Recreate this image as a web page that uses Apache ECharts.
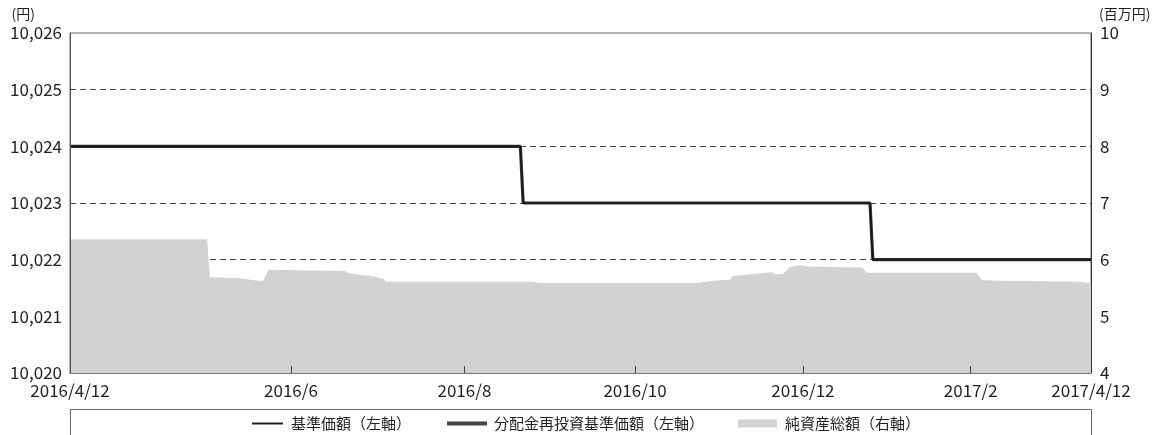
<!DOCTYPE html>
<html>
<head>
<meta charset="utf-8">
<script src="https://cdn.jsdelivr.net/npm/echarts@6/dist/echarts.min.js"></script>
<style>
  html, body { margin: 0; padding: 0; background: #fff; }
  #main { width: 1169px; height: 435px; }
</style>
</head>
<body>
<div id="main"></div>
<script>
// 基準価額 / 分配金再投資基準価額 (円, 左軸)
var navDates = ['2016-04-12', '2016-09-20', '2016-09-21', '2017-01-23', '2017-01-24', '2017-04-12'];
var navValues = [10024, 10024, 10023, 10023, 10022, 10022];
var reinvValues = [10024, 10024, 10023, 10023, 10022, 10022];

// 純資産総額 (百万円, 右軸)
var assetDates = ['2016-04-12', '2016-05-31', '2016-06-01', '2016-06-12', '2016-06-16', '2016-06-20',
  '2016-06-22', '2016-07-19', '2016-07-21', '2016-07-25', '2016-07-29', '2016-08-02', '2016-08-03',
  '2016-09-24', '2016-09-27', '2016-11-22', '2016-11-28', '2016-12-04', '2016-12-05', '2016-12-15',
  '2016-12-19', '2016-12-20', '2016-12-23', '2016-12-25', '2016-12-29', '2017-01-01', '2017-01-20',
  '2017-01-22', '2017-03-02', '2017-03-04', '2017-03-10', '2017-04-08', '2017-04-12'];
var assetValues = [6.36, 6.36, 5.69, 5.67, 5.64, 5.62,
  5.82, 5.80, 5.76, 5.73, 5.71, 5.66, 5.61,
  5.61, 5.59, 5.59, 5.63, 5.65, 5.71, 5.76,
  5.78, 5.74, 5.75, 5.86, 5.90, 5.88, 5.86,
  5.77, 5.77, 5.64, 5.63, 5.61, 5.59];

// x軸の目盛
var tickDates = ['2016-04-12', '2016-06-30', '2016-08-31', '2016-10-31', '2016-12-30', '2017-02-28', '2017-04-12'];
var tickLabels = ['2016/4/12', '2016/6', '2016/8', '2016/10', '2016/12', '2017/2', '2017/4/12'];

var font = '"Noto Sans CJK JP", "Noto Sans", sans-serif';
var textColor = '#231f20';

// 日付 -> 日数 (2016-04-12 からの経過日)
var base = Date.UTC(2016, 3, 12);
function dayNum(s) {
  var p = s.split('-');
  return Math.round((Date.UTC(+p[0], +p[1] - 1, +p[2]) - base) / 86400000);
}
function pairs(dates, vals) {
  return dates.map(function (d, i) { return [dayNum(d), vals[i]]; });
}
var tickValues = tickDates.map(dayNum);
var innerTicks = tickValues.slice(1, -1);

var myChart = echarts.init(document.getElementById('main'));
myChart.setOption({
  animation: false,
  textStyle: { fontFamily: font, color: textColor },
  grid: {
    left: 70, right: 78, top: 33, bottom: 62,
    show: true, borderColor: '#666', borderWidth: 1,
    outerBoundsMode: 'none'
  },
  legend: [{
    left: 247, top: 411,
    itemWidth: 31, itemHeight: 2, icon: 'rect',
    textStyle: { fontFamily: font, fontSize: 15, color: textColor, padding: [0, 0, 0, 3] },
    data: ['基準価額（左軸）']
  }, {
    left: 442, top: 411,
    itemWidth: 40, itemHeight: 4, icon: 'rect',
    textStyle: { fontFamily: font, fontSize: 15, color: textColor, padding: [0, 0, 0, 2] },
    data: ['分配金再投資基準価額（左軸）']
  }, {
    left: 733, top: 411,
    itemWidth: 39, itemHeight: 8, icon: 'rect',
    textStyle: { fontFamily: font, fontSize: 15, color: textColor, padding: [0, 0, 0, 3] },
    data: ['純資産総額（右軸）']
  }],
  graphic: [{
    type: 'rect',
    shape: { x: 70.5, y: 409.5, width: 1021, height: 40 },
    style: { fill: 'none', stroke: '#666', lineWidth: 1 }
  }],
  xAxis: {
    type: 'value',
    min: tickValues[0],
    max: tickValues[tickValues.length - 1],
    z: 5,
    axisLine: { show: true, lineStyle: { color: '#777', width: 1 } },
    axisTick: {
      show: true, inside: true, length: 7,
      customValues: innerTicks,
      lineStyle: { color: '#444' }
    },
    axisLabel: {
      customValues: tickValues,
      margin: 9,
      fontSize: 17,
      fontFamily: font,
      color: textColor,
      formatter: function (v) {
        var i = tickValues.indexOf(v);
        return i >= 0 ? tickLabels[i] : '';
      }
    },
    splitLine: { show: false }
  },
  yAxis: [{
    type: 'value',
    position: 'left',
    min: 10020, max: 10026, interval: 1,
    name: '(円)',
    nameLocation: 'end',
    nameGap: 12,
    nameTextStyle: { fontFamily: font, fontSize: 14, color: textColor, align: 'right', padding: [0, 35, 0, 0] },
    axisLine: { show: false },
    axisTick: { show: false },
    axisLabel: {
      margin: 8, fontSize: 17, fontFamily: font, color: textColor,
      formatter: function (v) { return String(v).replace(/\B(?=(\d{3})+(?!\d))/g, ','); }
    },
    splitLine: {
      show: true, showMinLine: false, showMaxLine: false,
      lineStyle: { color: '#444', width: 1, type: [6, 4] }
    }
  }, {
    type: 'value',
    position: 'right',
    min: 4, max: 10, interval: 1,
    name: '(百万円)',
    nameLocation: 'end',
    nameGap: 12,
    nameTextStyle: { fontFamily: font, fontSize: 14, color: textColor, align: 'left', padding: [0, 0, 0, 8] },
    z: 5,
    axisLine: { show: true, lineStyle: { color: '#333', width: 1 } },
    axisTick: { show: false },
    axisLabel: { margin: 9, fontSize: 17, fontFamily: font, color: textColor },
    splitLine: { show: false }
  }, {
    type: 'value',
    position: 'left',
    min: 10020, max: 10026, interval: 1,
    z: 5,
    axisLine: { show: true, lineStyle: { color: '#555', width: 1 } },
    axisTick: { show: false },
    axisLabel: { show: false },
    splitLine: { show: false }
  }],
  series: [{
    name: '純資産総額（右軸）',
    type: 'line',
    yAxisIndex: 1,
    z: 1,
    symbol: 'none',
    color: '#d1d2d4',
    lineStyle: { width: 0, color: '#d1d2d4' },
    areaStyle: { color: '#d1d2d4', opacity: 1 },
    data: pairs(assetDates, assetValues)
  }, {
    name: '分配金再投資基準価額（左軸）',
    type: 'line',
    yAxisIndex: 0,
    z: 3,
    symbol: 'none',
    color: '#444',
    lineStyle: { width: 3.2, color: '#3a3a3a' },
    data: pairs(navDates, reinvValues)
  }, {
    name: '基準価額（左軸）',
    type: 'line',
    yAxisIndex: 0,
    z: 4,
    symbol: 'none',
    color: '#231f20',
    lineStyle: { width: 1.6, color: '#151515' },
    data: pairs(navDates, navValues)
  }]
});
</script>
</body>
</html>
